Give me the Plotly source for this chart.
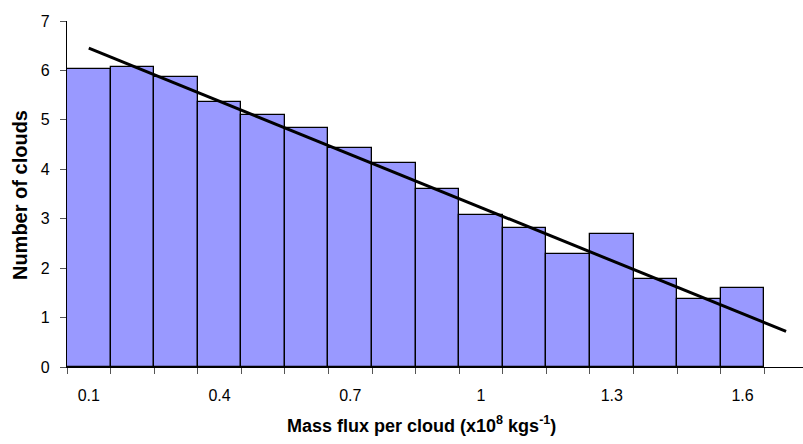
import plotly.graph_objects as go

# Histogram of mass flux per cloud
categories = ["0.1", "0.2", "0.3", "0.4", "0.5", "0.6", "0.7", "0.8",
              "0.9", "1", "1.1", "1.2", "1.3", "1.4", "1.5", "1.6"]
counts = [6.03, 6.06, 5.87, 5.36, 5.09, 4.84, 4.44, 4.13,
          3.60, 3.08, 2.82, 2.29, 2.70, 1.78, 1.37, 1.60]

# Linear trend (extended one bin forward)
trend_bins = [0, 16]
trend_values = [6.45, 0.72]

y_ticks = [0, 1, 2, 3, 4, 5, 6, 7]
label_every = 3

idx = list(range(len(categories)))
font_family = "Liberation Sans, Arial, sans-serif"

fig = go.Figure()
fig.add_trace(go.Bar(
    x=idx, y=counts, width=1.0,
    marker=dict(color="#9999FF", line=dict(color="black", width=1.3)),
    showlegend=False,
))
fig.add_trace(go.Scatter(
    x=trend_bins, y=trend_values, mode="lines",
    line=dict(color="black", width=3),
    showlegend=False,
))

tick_idx = idx[::label_every]
fig.update_xaxes(
    range=[-0.5, 16.388],
    tickvals=tick_idx,
    ticktext=[categories[i] for i in tick_idx],
    ticks="",
    ticklabelstandoff=14,
    minor=dict(ticks="outside", tick0=-0.5, dtick=1, ticklen=6,
               tickcolor="#555555", tickwidth=1),
    showline=True, linecolor="black", linewidth=1.3,
    showgrid=False, zeroline=False,
    tickfont=dict(family=font_family, size=16, color="black"),
)
fig.update_yaxes(
    range=[0, 7],
    tickvals=y_ticks,
    ticks="outside", ticklen=6, tickcolor="#555555", tickwidth=1,
    ticklabelstandoff=7,
    showline=True, linecolor="black", linewidth=1.3,
    showgrid=False, zeroline=False,
    tickfont=dict(family=font_family, size=16, color="black"),
)

fig.add_annotation(
    text="<b>Mass flux per cloud (x10<sup>8</sup> kgs<sup>-1</sup>)</b>",
    xref="paper", yref="paper", x=(421 - 67) / 736, y=-0.165,
    xanchor="center", yanchor="middle", showarrow=False,
    font=dict(family=font_family, size=18, color="black"),
)
fig.add_annotation(
    text="<b>Number of clouds</b>",
    xref="paper", yref="paper", x=-(67 - 20) / 736, y=0.497,
    xanchor="center", yanchor="middle", textangle=-90, showarrow=False,
    font=dict(family=font_family, size=20, color="black"),
)

fig.update_layout(
    width=803, height=444,
    margin=dict(l=67, r=0, t=21, b=77),
    plot_bgcolor="white", paper_bgcolor="white",
    bargap=0,
)

fig.write_html("out.html")
